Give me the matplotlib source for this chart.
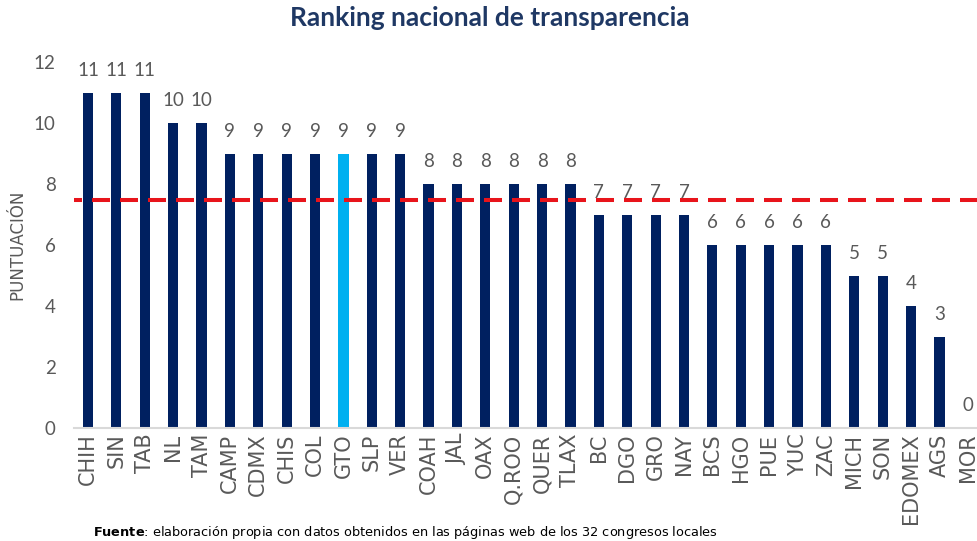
import matplotlib
matplotlib.use("Agg")
import matplotlib.pyplot as plt
import numpy as np

states = ["CHIH", "SIN", "TAB", "NL", "TAM", "CAMP", "CDMX", "CHIS", "COL", "GTO",
          "SLP", "VER", "COAH", "JAL", "OAX", "Q.ROO", "QUER", "TLAX", "BC", "DGO",
          "GRO", "NAY", "BCS", "HGO", "PUE", "YUC", "ZAC", "MICH", "SON", "EDOMEX",
          "AGS", "MOR"]
scores = [11, 11, 11, 10, 10, 9, 9, 9, 9, 9,
          9, 9, 8, 8, 8, 8, 8, 8, 7, 7,
          7, 7, 6, 6, 6, 6, 6, 5, 5, 4,
          3, 0]
highlight = "GTO"
yticks = [0, 2, 4, 6, 8, 10, 12]

plt.rcParams["lines.scale_dashes"] = False

W, H = 977, 541
fig = plt.figure(figsize=(W / 100, H / 100), dpi=100)
axw = 982 - 73.8
ax = fig.add_axes([73.8 / W, 1 - 428 / H, axw / W, (428 - 62) / H])

navy = "#002060"
light = "#00B0F0"
gray = "#595959"
x = np.arange(len(states))
colors = [light if s == highlight else navy for s in states]
ax.bar(x, scores, width=0.36, color=colors, zorder=2)

avg = np.mean(scores)
ax.axhline(avg, color="#E8141B", lw=2.9, zorder=3,
           linestyle=(7.2, (12.96, 7.2)))

for xi, v in zip(x, scores):
    ax.text(xi, v + 0.45, str(v), ha="center", va="bottom", fontsize=13.5,
            color=gray, family="Lato")

ax.set_xlim(-0.5, len(states) - 0.5)
ax.set_ylim(0, 12)
ax.set_yticks(yticks)
ax.set_yticklabels([str(t) for t in yticks], fontsize=13.5, color=gray, family="Lato")
ax.set_xticks(x)
ax.set_xticklabels(states, rotation=90, fontsize=15, color=gray, family="DejaVu Sans")
ax.tick_params(axis="y", length=0, pad=13)
ax.tick_params(axis="x", length=0, pad=4)
for s in ["top", "right", "left"]:
    ax.spines[s].set_visible(False)
ax.spines["bottom"].set_color("#D9D9D9")
ax.spines["bottom"].set_linewidth(1.5)

ax.set_ylabel("PUNTUACIÓN", fontsize=12, color=gray, family="DejaVu Sans")
ax.yaxis.set_label_coords((26 - 73.8) / axw, 0.5)

fig.text(490 / W, 1 - 18 / H, "Ranking nacional de transparencia", ha="center", va="center",
         fontsize=19, fontweight="bold", color="#1F3864", family="Lato")

fig.text(93 / W, 1 - 524 / H,
         r"$\bf{Fuente}$: elaboración propia con datos obtenidos en las páginas web de los 32 congresos locales",
         ha="left", va="top", fontsize=9.3, color="black", family="DejaVu Sans")

fig.savefig("out.png", dpi=100)
